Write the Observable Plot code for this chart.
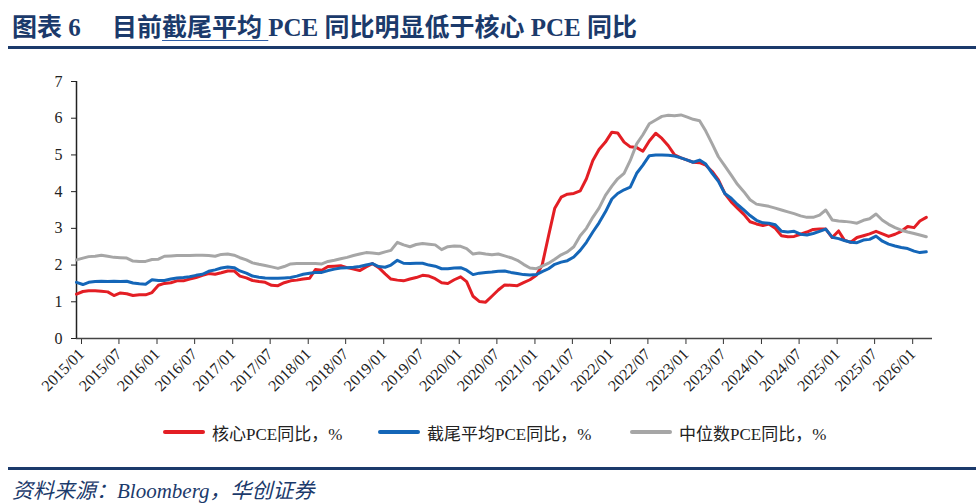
<!DOCTYPE html>
<html>
<head>
<meta charset="utf-8">
<script src="https://cdn.jsdelivr.net/npm/d3@7"></script>
<script src="https://cdn.jsdelivr.net/npm/@observablehq/plot@0.6"></script>
<style>
  html, body { margin: 0; padding: 0; background: #fff; }
  #wrap { position: relative; width: 978px; height: 504px; overflow: hidden; background: #fff; }
  .title { position: absolute; left: 12px; top: 7px; font-family: "Liberation Serif", "Noto Sans CJK SC", serif; font-weight: 700; font-size: 25px; color: #1B3A6B; white-space: pre; }
  .title u { text-decoration-color: #2E5FA8; text-decoration-thickness: 1px; text-underline-offset: 4px; }
  .rule { position: absolute; left: 8px; width: 968px; height: 3px; background: #1B3A6B; }
  #chart { position: absolute; left: 0; top: 52px; }
  .legend { position: absolute; top: 421px; left: 0; width: 978px; font-family: "Liberation Serif", "Noto Sans CJK SC", serif; font-size: 17px; color: #222; }
  .item { position: absolute; top: 0; display: flex; align-items: center; height: 22px; white-space: nowrap; }
  .swatch { display: inline-block; width: 42px; height: 4px; border-radius: 2px; margin-right: 7px; }
  .source { position: absolute; left: 12px; top: 474px; font-family: "Liberation Serif", "Noto Sans CJK SC", serif; font-style: italic; font-size: 21px; color: #1B3A6B; white-space: pre; }
</style>
</head>
<body>
<div id="wrap">
  <div class="title">图表 6     目前<u>截尾平均 </u>PCE 同比明显低于核心 PCE 同比</div>
  <div class="rule" style="top:46px"></div>
  <div id="chart"></div>
  <div class="legend" id="legend"></div>
  <div class="rule" style="top:467px"></div>
  <div class="source">资料来源：Bloomberg，华创证券</div>
</div>
<script>
// Monthly data, 2015/01 onward
const startYear = 2015, startMonth = 0;
const seriesNames = ["核心PCE同比，%", "截尾平均PCE同比，%", "中位数PCE同比，%"];
const seriesColors = ["#E31E24", "#1466B8", "#A6A6A6"];

const corePCE = [
  1.21, 1.28, 1.30, 1.30, 1.29, 1.27, 1.17, 1.24, 1.22, 1.17,
  1.19, 1.19, 1.25, 1.45, 1.50, 1.52, 1.57, 1.57, 1.62, 1.66,
  1.72, 1.77, 1.75, 1.79, 1.84, 1.84, 1.70, 1.65, 1.58, 1.55,
  1.53, 1.45, 1.44, 1.52, 1.57, 1.59, 1.62, 1.64, 1.88, 1.86,
  1.96, 1.97, 1.98, 1.93, 1.89, 1.85, 1.95, 2.04, 1.93, 1.76,
  1.62, 1.59, 1.57, 1.62, 1.66, 1.72, 1.70, 1.63, 1.52, 1.50,
  1.60, 1.68, 1.55, 1.15, 1.01, 0.99, 1.15, 1.32, 1.46, 1.45,
  1.44, 1.52, 1.60, 1.72, 2.00, 2.80, 3.55, 3.85, 3.93, 3.95,
  4.02, 4.35, 4.85, 5.15, 5.35, 5.62, 5.60, 5.35, 5.22, 5.20,
  5.10, 5.38, 5.59, 5.45, 5.25, 5.00, 4.92, 4.86, 4.80, 4.79,
  4.72, 4.55, 4.32, 3.95, 3.72, 3.55, 3.38, 3.18, 3.12, 3.08,
  3.12, 3.00, 2.80, 2.77, 2.78, 2.84, 2.90, 2.97, 2.98, 2.98,
  2.75, 2.93, 2.68, 2.62, 2.75, 2.80, 2.85, 2.92, 2.85, 2.78,
  2.84, 2.92, 3.05, 3.02, 3.20, 3.30
];
const trimmedPCE = [
  1.53, 1.47, 1.53, 1.55, 1.56, 1.55, 1.56, 1.55, 1.56, 1.51,
  1.49, 1.48, 1.60, 1.58, 1.58, 1.62, 1.65, 1.66, 1.68, 1.72,
  1.75, 1.83, 1.87, 1.92, 1.95, 1.93, 1.84, 1.78, 1.70, 1.67,
  1.65, 1.64, 1.64, 1.65, 1.66, 1.70, 1.75, 1.78, 1.80, 1.80,
  1.85, 1.89, 1.92, 1.93, 1.94, 1.96, 2.00, 2.04, 1.96, 1.94,
  2.00, 2.13, 2.05, 2.04, 2.05, 2.05, 2.00, 1.97, 1.90, 1.90,
  1.92, 1.93, 1.86, 1.74, 1.78, 1.80, 1.81, 1.83, 1.84, 1.80,
  1.77, 1.74, 1.73, 1.74, 1.82, 1.90, 2.02, 2.08, 2.12, 2.22,
  2.40, 2.62, 2.90, 3.15, 3.45, 3.80, 3.95, 4.05, 4.12, 4.50,
  4.72, 4.98, 5.00, 5.00, 4.99, 4.97, 4.92, 4.86, 4.80, 4.86,
  4.75, 4.50, 4.28, 3.95, 3.82, 3.65, 3.50, 3.35, 3.22, 3.15,
  3.14, 3.10, 2.92, 2.90, 2.92, 2.84, 2.82, 2.86, 2.92, 2.98,
  2.76, 2.72, 2.67, 2.62, 2.61, 2.68, 2.70, 2.79, 2.65, 2.57,
  2.52, 2.48, 2.45, 2.38, 2.34, 2.36
];
const medianPCE = [
  2.14, 2.19, 2.23, 2.24, 2.27, 2.24, 2.21, 2.20, 2.19, 2.11,
  2.10, 2.10, 2.15, 2.16, 2.24, 2.25, 2.26, 2.26, 2.26, 2.27,
  2.27, 2.26, 2.24, 2.29, 2.30, 2.27, 2.20, 2.14, 2.06, 2.02,
  1.99, 1.95, 1.91, 1.96, 2.03, 2.04, 2.04, 2.04, 2.04, 2.03,
  2.10, 2.13, 2.17, 2.21, 2.26, 2.30, 2.34, 2.33, 2.31, 2.36,
  2.40, 2.62, 2.55, 2.50, 2.56, 2.59, 2.57, 2.55, 2.42, 2.50,
  2.52, 2.51, 2.45, 2.30, 2.33, 2.30, 2.28, 2.30, 2.25, 2.20,
  2.13, 2.02, 1.92, 1.90, 1.97, 2.05, 2.16, 2.28, 2.36, 2.50,
  2.80, 3.00, 3.30, 3.55, 3.90, 4.15, 4.35, 4.50, 4.85, 5.30,
  5.55, 5.85, 5.95, 6.05, 6.08, 6.07, 6.09, 6.03, 5.97, 5.93,
  5.65, 5.30, 4.95, 4.70, 4.45, 4.20, 4.00, 3.78, 3.66, 3.63,
  3.60, 3.55, 3.50, 3.45, 3.40, 3.34, 3.30, 3.30, 3.36, 3.50,
  3.23, 3.20, 3.19, 3.17, 3.14, 3.22, 3.26, 3.39, 3.22, 3.11,
  3.02, 2.95, 2.90, 2.86, 2.82, 2.77
];
const xTickLabels = [
  "2015/01","2015/07","2016/01","2016/07","2017/01","2017/07",
  "2018/01","2018/07","2019/01","2019/07","2020/01","2020/07",
  "2021/01","2021/07","2022/01","2022/07","2023/01","2023/07",
  "2024/01","2024/07","2025/01","2025/07","2026/01"
];
const yTicks = [0, 1, 2, 3, 4, 5, 6, 7];
const xEndLabel = "2026/05";

const parseYM = s => { const [y, m] = s.split("/").map(Number); return new Date(Date.UTC(y, m - 1, 1)); };
const months = corePCE.map((_, i) => new Date(Date.UTC(startYear, startMonth + i, 1)));
const tickDates = xTickLabels.map(parseYM);
const xDomain = [tickDates[0], parseYM(xEndLabel)];

const rows = [];
[corePCE, trimmedPCE, medianPCE].forEach((arr, s) => arr.forEach((v, i) => rows.push({date: months[i], value: v, series: seriesNames[s]})));

const chart = Plot.plot({
  width: 978,
  height: 356,
  marginTop: 29,
  marginBottom: 70,
  marginLeft: 76,
  marginRight: 46,
  style: {fontFamily: "'Liberation Serif', 'Times New Roman', serif", fontSize: "15px", color: "#222", background: "transparent", overflow: "visible"},
  x: {type: "utc", domain: xDomain},
  y: {domain: [0, 7]},
  color: {domain: seriesNames, range: seriesColors},
  marks: [
    Plot.axisY({ticks: yTicks, tickSize: 5, tickPadding: 9, label: null, tickFormat: d => String(d), fontSize: 16, stroke: "#222"}),
    Plot.axisX({ticks: tickDates, tickSize: 6, tickPadding: 7, tickRotate: -45, label: null, dx: 5, tickFormat: d => xTickLabels[tickDates.findIndex(t => +t === +d)], fontSize: 16, stroke: "#333"}),
    Plot.ruleY([0], {stroke: "#444", strokeWidth: 1.5}),
    Plot.ruleX([xDomain[0]], {y1: 0, y2: 7, stroke: "#222", strokeWidth: 1.5}),
    Plot.line(rows, {x: "date", y: "value", z: "series", stroke: "series", strokeWidth: 3, strokeLinejoin: "round"})
  ]
});
document.getElementById("chart").appendChild(chart);

// legend
const legendPos = [163, 378, 630];
const legend = document.getElementById("legend");
seriesNames.forEach((name, i) => {
  const it = document.createElement("div");
  it.className = "item";
  it.style.left = legendPos[i] + "px";
  it.innerHTML = `<span class="swatch" style="background:${seriesColors[i]}"></span><span>${name}</span>`;
  legend.appendChild(it);
});
</script>
</body>
</html>
